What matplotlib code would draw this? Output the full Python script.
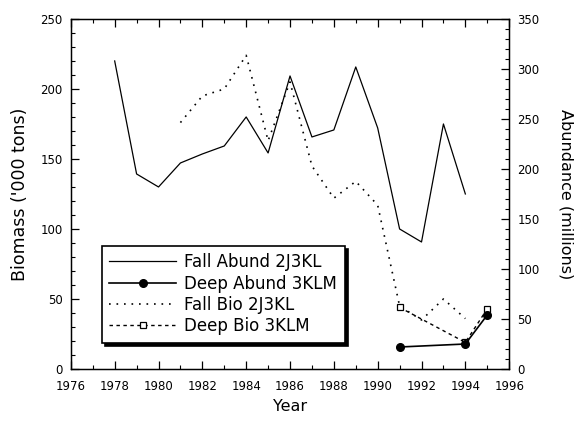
import matplotlib
matplotlib.use("Agg")
import matplotlib.pyplot as plt
from matplotlib.ticker import MultipleLocator

plt.rcParams['font.family'] = ['DejaVu Sans']

# Fall Abund 2J3KL (millions, right axis)
fall_abund_years = [1978, 1979, 1980, 1981, 1982, 1983, 1984, 1985, 1986, 1987,
                    1988, 1989, 1990, 1991, 1992, 1993, 1994]
fall_abund = [308, 195, 182, 206, 215, 223, 252, 216, 293, 232,
              239, 302, 241, 140, 127, 245, 175]

# Deep Abund 3KLM (millions, right axis)
deep_abund_years = [1991, 1994, 1995]
deep_abund = [22, 25, 54]

# Fall Bio 2J3KL ('000 tons, left axis)
fall_bio_years = [1981, 1982, 1983, 1984, 1985, 1986, 1987, 1988, 1989, 1990,
                  1991, 1992, 1993, 1994]
fall_bio = [176, 195, 200, 224, 163, 205, 145, 122, 134, 117,
            45, 35, 50, 36]

# Deep Bio 3KLM ('000 tons, left axis)
deep_bio_years = [1991, 1994, 1995]
deep_bio = [44, 19, 43]

fig = plt.figure(figsize=(5.76, 4.21), dpi=100)
ax = fig.add_axes([0.123, 0.1235, 0.761, 0.8315])
ax2 = ax.twinx()

l3, = ax.plot(fall_bio_years, fall_bio, color='black', lw=1.2,
              linestyle=(0, (1, 3.5)))
l4, = ax.plot(deep_bio_years, deep_bio, color='black', lw=1.0,
              linestyle=(0, (2.5, 2.5)), marker='s', markersize=5,
              markerfacecolor='white', markeredgecolor='black', markeredgewidth=0.9)
l1, = ax2.plot(fall_abund_years, fall_abund, color='black', lw=0.9)
l2, = ax2.plot(deep_abund_years, deep_abund, color='black', lw=1.2,
               marker='o', markersize=5.5, markerfacecolor='black')

ax.set_xlim(1976, 1996)
ax.set_ylim(0, 250)
ax2.set_ylim(0, 350)

ax.xaxis.set_major_locator(MultipleLocator(2))
ax.xaxis.set_minor_locator(MultipleLocator(1))
ax.yaxis.set_major_locator(MultipleLocator(50))
ax.yaxis.set_minor_locator(MultipleLocator(10))
ax2.yaxis.set_major_locator(MultipleLocator(50))
ax2.yaxis.set_minor_locator(MultipleLocator(10))

ax.tick_params(axis='both', which='both', direction='in', top=True, labelsize=8.5)
ax.tick_params(axis='y', which='both', right=False)
ax.tick_params(which='major', length=6, width=0.9)
ax.tick_params(which='minor', length=3, width=0.8)
ax.tick_params(axis='x', which='major', pad=8)
ax.tick_params(axis='y', which='major', pad=6)
ax2.tick_params(axis='y', which='both', direction='in', labelsize=8.5)
ax2.tick_params(which='major', length=6, width=0.9, pad=6)
ax2.tick_params(which='minor', length=3, width=0.8)

for sp in ax.spines.values():
    sp.set_linewidth(1.0)

ax.set_xlabel('Year', fontsize=11.5, labelpad=4)
ax.set_ylabel("Biomass ('000 tons)", fontsize=12.5, labelpad=8)
ax2.set_ylabel('Abundance (millions)', fontsize=11.5, rotation=270, labelpad=24)

leg = ax2.legend([l1, l2, l3, l4],
                 ['Fall Abund 2J3KL', 'Deep Abund 3KLM', 'Fall Bio 2J3KL', 'Deep Bio 3KLM'],
                 loc='lower left', bbox_to_anchor=(0.071, 0.075), fontsize=12,
                 handlelength=4.0, numpoints=1, labelspacing=0.2,
                 borderpad=0.45, handletextpad=0.5, borderaxespad=0.0,
                 fancybox=False, frameon=True, edgecolor='black', framealpha=1,
                 shadow={'color': 'black', 'alpha': 1})
leg.get_frame().set_linewidth(1.2)

fig.savefig('out.png', dpi=100)
